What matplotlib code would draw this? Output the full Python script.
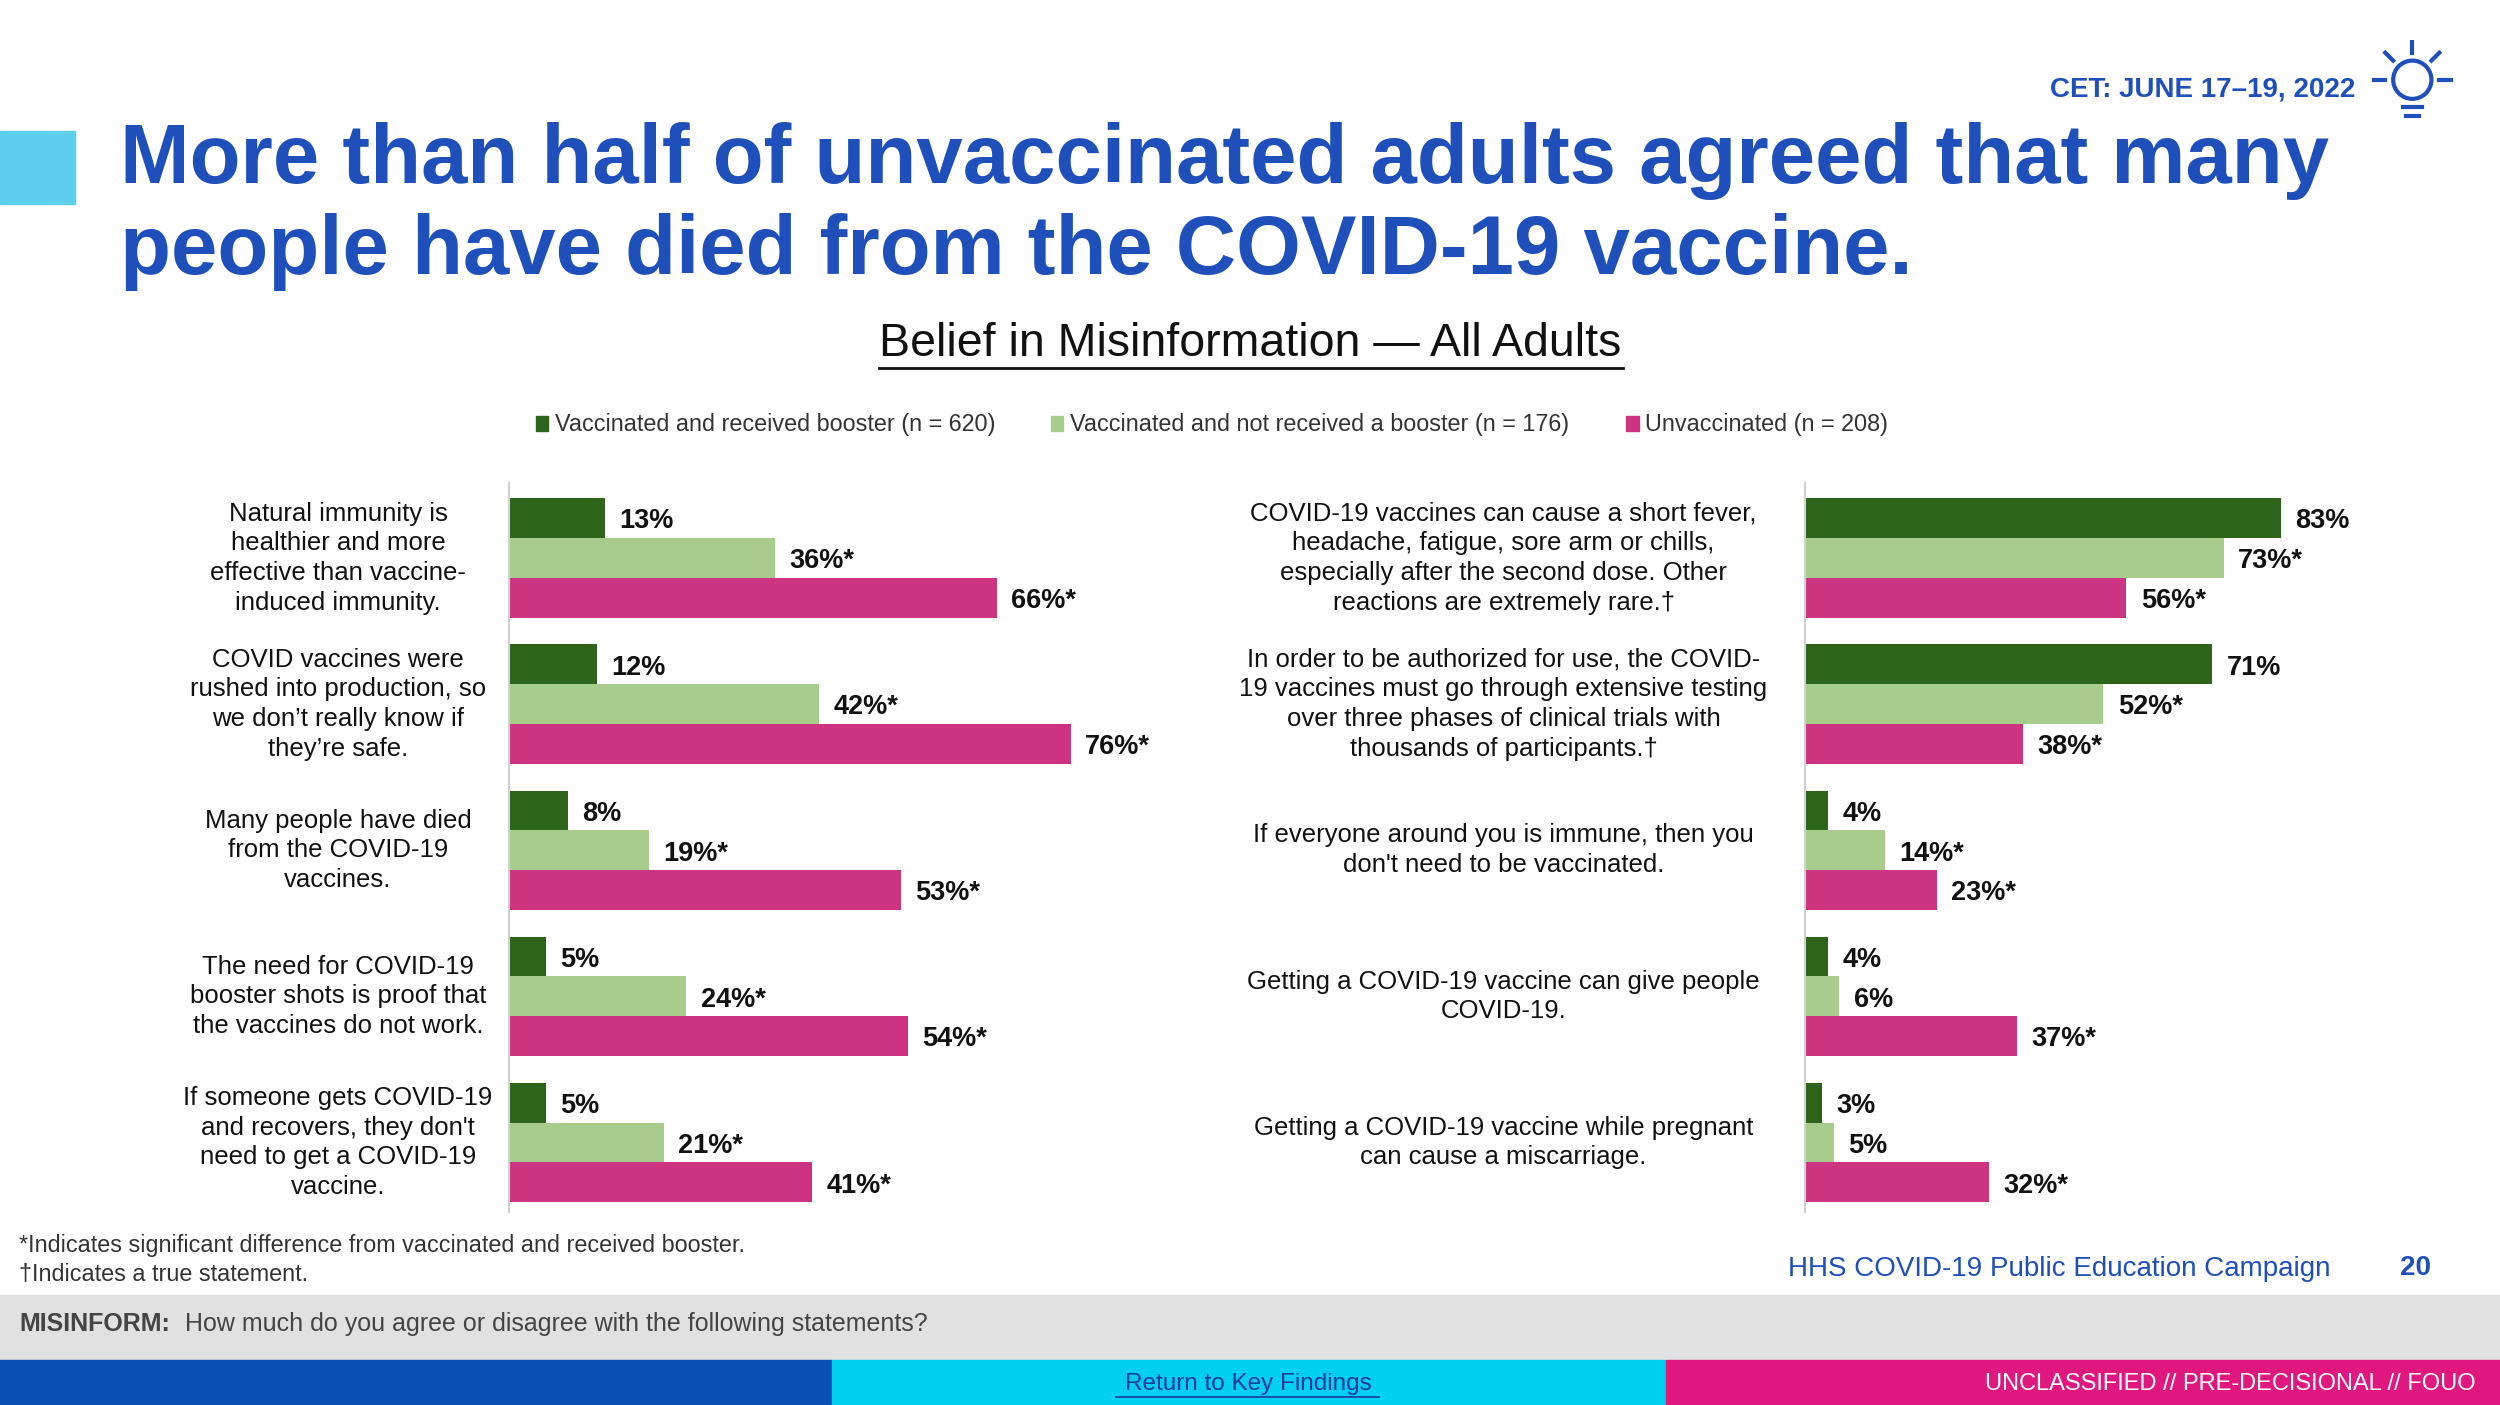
import matplotlib
matplotlib.use("Agg")
import matplotlib.pyplot as plt
from matplotlib.patches import Rectangle, Circle
import numpy as np

plt.rcParams['font.family'] = ['Liberation Sans', 'DejaVu Sans']

series = ["Vaccinated and received booster (n = 620)",
          "Vaccinated and not received a booster (n = 176)",
          "Unvaccinated (n = 208)"]
colors = ["#2c6419", "#a8cc8c", "#cc3381"]

left_labels = ["Natural immunity is\nhealthier and more\neffective than vaccine-\ninduced immunity.",
               "COVID vaccines were\nrushed into production, so\nwe don\u2019t really know if\nthey\u2019re safe.",
               "Many people have died\nfrom the COVID-19\nvaccines.",
               "The need for COVID-19\nbooster shots is proof that\nthe vaccines do not work.",
               "If someone gets COVID-19\nand recovers, they don't\nneed to get a COVID-19\nvaccine."]
left_vals = [[13, 12, 8, 5, 5], [36, 42, 19, 24, 21], [66, 76, 53, 54, 41]]
left_txt = [["13%", "12%", "8%", "5%", "5%"],
            ["36%*", "42%*", "19%*", "24%*", "21%*"],
            ["66%*", "76%*", "53%*", "54%*", "41%*"]]

right_labels = ["COVID-19 vaccines can cause a short fever,\nheadache, fatigue, sore arm or chills,\nespecially after the second dose. Other\nreactions are extremely rare.\u2020",
                "In order to be authorized for use, the COVID-\n19 vaccines must go through extensive testing\nover three phases of clinical trials with\nthousands of participants.\u2020",
                "If everyone around you is immune, then you\ndon't need to be vaccinated.",
                "Getting a COVID-19 vaccine can give people\nCOVID-19.",
                "Getting a COVID-19 vaccine while pregnant\ncan cause a miscarriage."]
right_vals = [[83, 71, 4, 4, 3], [73, 52, 14, 6, 5], [56, 38, 23, 37, 32]]
right_txt = [["83%", "71%", "4%", "4%", "3%"],
             ["73%*", "52%*", "14%*", "6%", "5%"],
             ["56%*", "38%*", "23%*", "37%*", "32%*"]]

W, H = 1568, 881
fig = plt.figure(figsize=(25, 14.05), dpi=100)

def fx(x): return x / W
def fy(y): return 1 - y / H

def rect(x0, y0, x1, y1, c):
    fig.patches.append(Rectangle((fx(x0), fy(y1)), fx(x1) - fx(x0), fy(y0) - fy(y1),
                                 transform=fig.transFigure, color=c, zorder=0))

# header
rect(0, 82, 47, 128, "#5dcdf0")
blue = "#1f4fba"
fig.text(fx(75), fy(101), "More than half of unvaccinated adults agreed that many",
         fontsize=60, fontweight='bold', color=blue, va='center')
fig.text(fx(75), fy(158), "people have died from the COVID-19 vaccine.",
         fontsize=60, fontweight='bold', color=blue, va='center')
fig.text(fx(1477), fy(56), "CET: JUNE 17\u201319, 2022", fontsize=20, fontweight='bold',
         color=blue, ha='right', va='center')
iax = fig.add_axes([fx(1483), fy(85), fx(60), 60 / H])
iax.set_xlim(-30, 30); iax.set_ylim(-30, 30); iax.set_aspect('equal'); iax.axis('off')
iax.add_patch(Circle((0, 5), 12, fill=False, ec=blue, lw=3))
for a in np.linspace(0, 180, 5):
    r = np.radians(a)
    iax.plot([17 * np.cos(r), 24 * np.cos(r)], [5 + 17 * np.sin(r), 5 + 24 * np.sin(r)], color=blue, lw=3)
iax.plot([-6, 6], [-12, -12], color=blue, lw=3)
iax.plot([-4, 4], [-18, -18], color=blue, lw=3)

fig.text(fx(784), fy(216), "Belief in Misinformation \u2014 All Adults", fontsize=33.5,
         ha='center', va='center', color='#111111')
fig.lines.append(plt.Line2D([fx(551), fx(1018)], [fy(231), fy(231)], transform=fig.transFigure, color='#111111', lw=2))

lx = [336, 659, 1020]
for x, s, c in zip(lx, series, colors):
    rect(x, 261, x + 8, 270, c)
    fig.text(fx(x + 12), fy(266), s, fontsize=16.8, va='center', color='#333333')

def panel(x0, pxper100, labels, vals, txts, labx):
    top, bot = 303, 760
    ax = fig.add_axes([fx(x0), fy(bot), pxper100 / W, (bot - top) / H])
    gap = 91.6
    for g in range(len(labels)):
        for s in range(3):
            y = 325 + g * gap + s * 25
            ax.barh(y, vals[s][g], height=25, color=colors[s])
            ax.text(vals[s][g] + 100 * 9 / pxper100, y + 2, txts[s][g],
                    fontsize=19.5, fontweight='bold', va='center', ha='left', color='#111111')
        fig.text(fx(labx), fy(350 + g * gap), labels[g], fontsize=18.5, ha='center',
                 va='center', linespacing=1.3, color='#111111')
    ax.set_ylim(bot, top)
    ax.set_xlim(0, 100)
    ax.axis('off')
    ax.plot([0, 0], [top, bot], color='#d0d0d0', lw=1.5, clip_on=False)

panel(319, 464, left_labels, left_vals, left_txt, 212)
panel(1132, 360, right_labels, right_vals, right_txt, 943)

fig.text(fx(12), fy(781), "*Indicates significant difference from vaccinated and received booster.",
         fontsize=16.8, color='#333333', va='center')
fig.text(fx(12), fy(799), "\u2020Indicates a true statement.", fontsize=16.8, color='#333333', va='center')
fig.text(fx(1462), fy(796), "HHS COVID-19 Public Education Campaign", fontsize=20,
         color=blue, ha='right', va='center')
fig.text(fx(1525), fy(795), "20", fontsize=20, fontweight='bold', color=blue, ha='right', va='center')

rect(0, 812, W, 853, "#e1e1e1")
fig.text(fx(12), fy(830), "MISINFORM:", fontsize=18, fontweight='bold', color='#444444', va='center')
fig.text(fx(116), fy(830), "How much do you agree or disagree with the following statements?",
         fontsize=18, color='#444444', va='center')
rect(0, 853, 522, 881, "#0a4fb3")
rect(522, 853, 1045, 881, "#00d0f0")
rect(1045, 853, W, 881, "#e0177f")
fig.text(fx(783), fy(868), "Return to Key Findings", fontsize=17.5, color='#1a3a9a', ha='center', va='center')
fig.lines.append(plt.Line2D([fx(700), fx(865)], [fy(876), fy(876)], transform=fig.transFigure, color='#1a3a9a', lw=1.2))
fig.text(fx(1553), fy(868), "UNCLASSIFIED // PRE-DECISIONAL // FOUO", fontsize=17,
         color='white', ha='right', va='center')

fig.savefig("out.png", dpi=100)
